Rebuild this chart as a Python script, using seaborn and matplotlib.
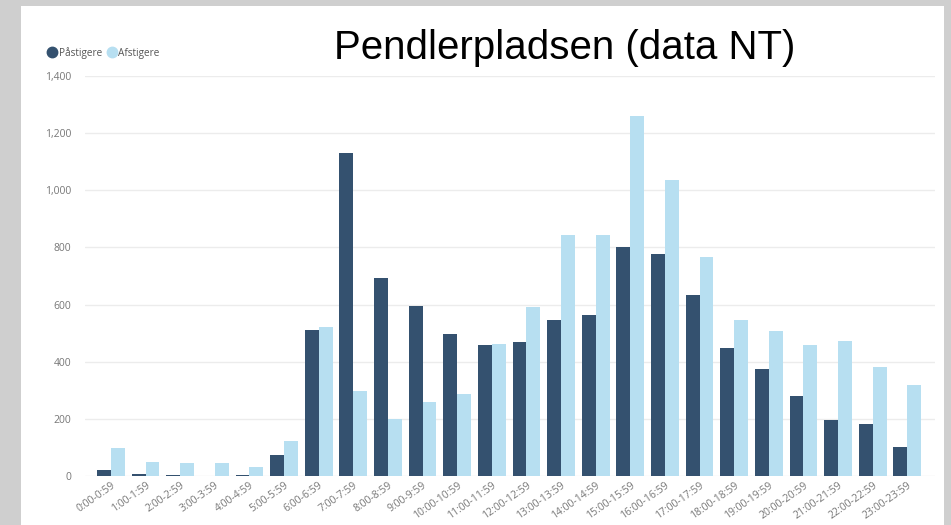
import numpy as np
import pandas as pd
import seaborn as sns
import matplotlib.pyplot as plt
from matplotlib.patches import Rectangle
from matplotlib.lines import Line2D
from matplotlib.ticker import FuncFormatter

# data
timer = ['0:00-0:59', '1:00-1:59', '2:00-2:59', '3:00-3:59', '4:00-4:59', '5:00-5:59',
         '6:00-6:59', '7:00-7:59', '8:00-8:59', '9:00-9:59', '10:00-10:59', '11:00-11:59',
         '12:00-12:59', '13:00-13:59', '14:00-14:59', '15:00-15:59', '16:00-16:59',
         '17:00-17:59', '18:00-18:59', '19:00-19:59', '20:00-20:59', '21:00-21:59',
         '22:00-22:59', '23:00-23:59']
paastigere = [22, 8, 5, 0, 5, 72, 510, 1130, 692, 595, 498, 458,
              470, 547, 565, 800, 778, 635, 447, 375, 280, 197, 182, 100]
afstigere = [97, 48, 47, 47, 32, 122, 522, 297, 200, 258, 287, 462,
             590, 845, 845, 1260, 1037, 765, 545, 508, 457, 472, 380, 320]
serier = ['Påstigere', 'Afstigere']
farver = ['#34516f', '#b7dff1']

df = pd.DataFrame({'time': timer * 2,
                   'antal': paastigere + afstigere,
                   'serie': [serier[0]] * len(timer) + [serier[1]] * len(timer)})

sns.set_style('white')
plt.rcParams['font.family'] = ['Open Sans', 'DejaVu Sans']

fig = plt.figure(figsize=(9.51, 5.25), dpi=100)
fig.patch.set_facecolor('#cfcfcf')
# hvid ramme som i slides
fig.patches.append(Rectangle((21 / 951, 0), (944 - 21) / 951, 1 - 6 / 525,
                             transform=fig.transFigure, facecolor='white',
                             edgecolor='none', zorder=-10))

ax = fig.add_axes([85 / 951, 49 / 525, (935 - 85) / 951, (476 - 76) / 525])
ax.set_facecolor('none')
sns.barplot(data=df, x='time', y='antal', hue='serie', palette=farver, saturation=1,
            width=0.8, linewidth=0, legend=False, ax=ax)

ax.set_ylim(0, 1400)
ax.set_xlim(-0.75, 23.8)
ax.set_yticks(range(0, 1401, 200))
ax.yaxis.set_major_formatter(FuncFormatter(lambda v, p: f'{int(v):,}'))
ax.grid(axis='y', color='#ececec', linewidth=1)
ax.set_axisbelow(True)
sns.despine(ax=ax, left=True, bottom=True)
ax.set_xlabel('')
ax.set_ylabel('')
ax.tick_params(axis='both', length=0, labelsize=7.5, labelcolor='#777777')
ax.tick_params(axis='y', pad=10)
ax.tick_params(axis='x', pad=3)
plt.setp(ax.get_xticklabels(), rotation=35, ha='right', rotation_mode='anchor')

handles = [Line2D([], [], marker='o', linestyle='none', markersize=7.5,
                  markerfacecolor=c, markeredgecolor=c) for c in farver]
fig.legend(handles, serier, loc='center left', bbox_to_anchor=(46 / 951, 1 - 53 / 525),
           frameon=False, fontsize=7.2, labelcolor='#555555', handletextpad=0.05,
           handlelength=1.2, columnspacing=0.4, ncol=2, borderaxespad=0, borderpad=0)

fig.text(565 / 951, 1 - 48 / 525, 'Pendlerpladsen (data NT)', ha='center', va='center',
         fontsize=29, family=['Liberation Sans', 'DejaVu Sans'], color='black')

fig.savefig('out.png', dpi=100, facecolor=fig.get_facecolor())
